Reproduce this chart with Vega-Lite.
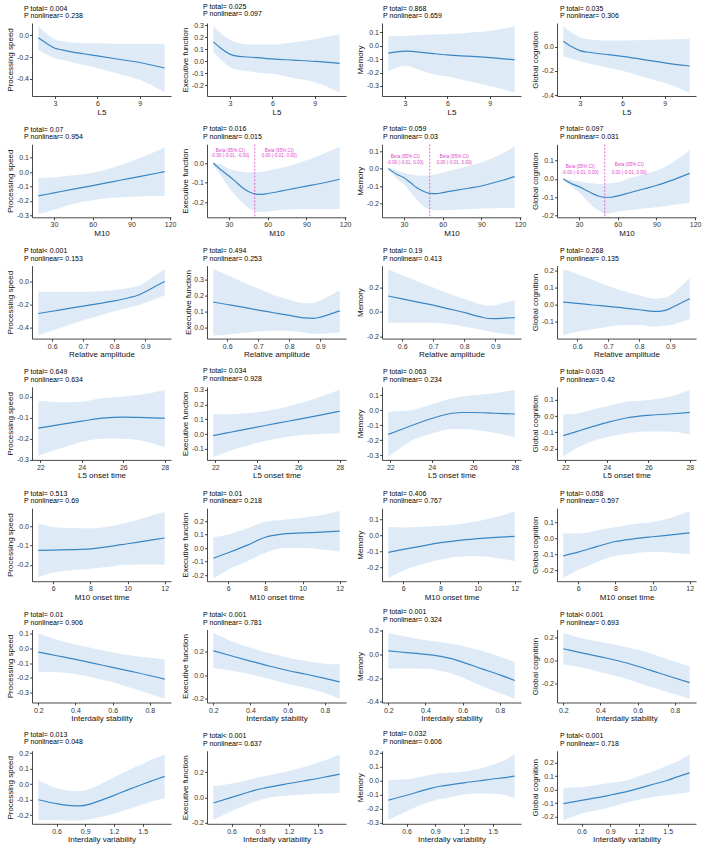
{
"$schema":"https://vega.github.io/schema/vega-lite/v6.json",
"padding":{"left":6,"top":2,"right":2,"bottom":1},
"bounds":"flush",
"columns":4,
"spacing":{"row":48.3,"column":36},
"config":{
"font":"Liberation Sans",
"view":{"stroke":null},
"axis":{"grid":false,"domainColor":"#1a1a1a","tickColor":"#1a1a1a","tickSize":2.5,"labelFontSize":7,"labelColor":"#333333","titleFontSize":8,"titleFontWeight":400,"titleColor":"#111111","labelPadding":1,"titlePadding":1.5,"domainWidth":0.8,"tickWidth":0.8,"labelFlush":false,"labelOverlap":false},
"axisX":{"titleFontWeight":400},
"axisY":{"titleFontWeight":400},
"style":{"guide-title":{"fontWeight":400}},
"title":{"fontSize":7,"fontWeight":"normal","anchor":"start","frame":"group","offset":4,"lineHeight":7.5,"color":"#000000"},
"line":{"color":"#3a86c4","strokeWidth":1.2,"interpolate":"monotone"},
"area":{"color":"#deebf7","interpolate":"monotone"}
},
"datasets":{"d":[
{"e":"L5","o":"PS","x":1.83,"f":-0.025,"l":-0.135,"h":0.08},{"e":"L5","o":"PS","x":2.4,"f":-0.075,"l":-0.175,"h":0.015},{"e":"L5","o":"PS","x":3,"f":-0.12,"l":-0.21,"h":-0.04},{"e":"L5","o":"PS","x":3.5,"f":-0.135,"l":-0.225,"h":-0.055},{"e":"L5","o":"PS","x":4,"f":-0.148,"l":-0.24,"h":-0.065},{"e":"L5","o":"PS","x":5,"f":-0.17,"l":-0.27,"h":-0.072},{"e":"L5","o":"PS","x":6,"f":-0.19,"l":-0.3,"h":-0.075},{"e":"L5","o":"PS","x":7.5,"f":-0.22,"l":-0.355,"h":-0.078},{"e":"L5","o":"PS","x":9,"f":-0.25,"l":-0.41,"h":-0.08},{"e":"L5","o":"PS","x":10.76,"f":-0.3,"l":-0.52,"h":-0.08},
{"e":"L5","o":"EF","x":1.83,"f":0.162,"l":0.075,"h":0.29},{"e":"L5","o":"EF","x":2.4,"f":0.105,"l":0.01,"h":0.23},{"e":"L5","o":"EF","x":3,"f":0.06,"l":-0.05,"h":0.18},{"e":"L5","o":"EF","x":3.5,"f":0.043,"l":-0.07,"h":0.155},{"e":"L5","o":"EF","x":4,"f":0.038,"l":-0.08,"h":0.145},{"e":"L5","o":"EF","x":5,"f":0.03,"l":-0.095,"h":0.14},{"e":"L5","o":"EF","x":6,"f":0.02,"l":-0.105,"h":0.14},{"e":"L5","o":"EF","x":7.5,"f":0.01,"l":-0.14,"h":0.16},{"e":"L5","o":"EF","x":9,"f":0.0,"l":-0.175,"h":0.185},{"e":"L5","o":"EF","x":10.76,"f":-0.017,"l":-0.26,"h":0.225},
{"e":"L5","o":"MEM","x":1.83,"f":-0.055,"l":-0.19,"h":0.07},{"e":"L5","o":"MEM","x":2.4,"f":-0.045,"l":-0.165,"h":0.073},{"e":"L5","o":"MEM","x":3,"f":-0.04,"l":-0.15,"h":0.075},{"e":"L5","o":"MEM","x":3.5,"f":-0.042,"l":-0.16,"h":0.077},{"e":"L5","o":"MEM","x":4,"f":-0.047,"l":-0.18,"h":0.08},{"e":"L5","o":"MEM","x":5,"f":-0.058,"l":-0.21,"h":0.085},{"e":"L5","o":"MEM","x":6,"f":-0.068,"l":-0.23,"h":0.088},{"e":"L5","o":"MEM","x":7.5,"f":-0.078,"l":-0.265,"h":0.098},{"e":"L5","o":"MEM","x":9,"f":-0.088,"l":-0.3,"h":0.11},{"e":"L5","o":"MEM","x":10.76,"f":-0.105,"l":-0.35,"h":0.145},
{"e":"L5","o":"GC","x":1.83,"f":0.044,"l":-0.08,"h":0.167},{"e":"L5","o":"GC","x":2.4,"f":0.0,"l":-0.1,"h":0.115},{"e":"L5","o":"GC","x":3,"f":-0.033,"l":-0.12,"h":0.077},{"e":"L5","o":"GC","x":3.5,"f":-0.045,"l":-0.135,"h":0.062},{"e":"L5","o":"GC","x":4,"f":-0.053,"l":-0.15,"h":0.055},{"e":"L5","o":"GC","x":5,"f":-0.067,"l":-0.175,"h":0.05},{"e":"L5","o":"GC","x":6,"f":-0.08,"l":-0.2,"h":0.05},{"e":"L5","o":"GC","x":7.5,"f":-0.107,"l":-0.25,"h":0.055},{"e":"L5","o":"GC","x":9,"f":-0.134,"l":-0.3,"h":0.058},{"e":"L5","o":"GC","x":10.76,"f":-0.16,"l":-0.38,"h":0.063},
{"e":"M10","o":"PS","x":17.9,"f":-0.165,"l":-0.29,"h":-0.04},{"e":"M10","o":"PS","x":30,"f":-0.144,"l":-0.26,"h":-0.035},{"e":"M10","o":"PS","x":45,"f":-0.118,"l":-0.22,"h":-0.022},{"e":"M10","o":"PS","x":60,"f":-0.093,"l":-0.195,"h":-0.005},{"e":"M10","o":"PS","x":75,"f":-0.067,"l":-0.178,"h":0.03},{"e":"M10","o":"PS","x":90,"f":-0.041,"l":-0.17,"h":0.075},{"e":"M10","o":"PS","x":100,"f":-0.024,"l":-0.167,"h":0.11},{"e":"M10","o":"PS","x":115.8,"f":0.003,"l":-0.165,"h":0.17},
{"e":"M10","o":"EF","x":17.9,"f":0.0,"l":-0.01,"h":0.005},{"e":"M10","o":"EF","x":25,"f":-0.04,"l":-0.075,"h":-0.01},{"e":"M10","o":"EF","x":30,"f":-0.065,"l":-0.125,"h":-0.028},{"e":"M10","o":"EF","x":35,"f":-0.093,"l":-0.165,"h":-0.037},{"e":"M10","o":"EF","x":40,"f":-0.123,"l":-0.2,"h":-0.043},{"e":"M10","o":"EF","x":45,"f":-0.145,"l":-0.228,"h":-0.046},{"e":"M10","o":"EF","x":50,"f":-0.157,"l":-0.245,"h":-0.046},{"e":"M10","o":"EF","x":55,"f":-0.16,"l":-0.25,"h":-0.044},{"e":"M10","o":"EF","x":60,"f":-0.155,"l":-0.247,"h":-0.038},{"e":"M10","o":"EF","x":70,"f":-0.143,"l":-0.24,"h":-0.025},{"e":"M10","o":"EF","x":80,"f":-0.13,"l":-0.236,"h":-0.008},{"e":"M10","o":"EF","x":90,"f":-0.117,"l":-0.234,"h":0.015},{"e":"M10","o":"EF","x":100,"f":-0.105,"l":-0.234,"h":0.04},{"e":"M10","o":"EF","x":115.8,"f":-0.082,"l":-0.235,"h":0.085},
{"e":"M10","o":"MEM","x":17.9,"f":0.0,"l":-0.008,"h":0.004},{"e":"M10","o":"MEM","x":25,"f":-0.035,"l":-0.06,"h":-0.012},{"e":"M10","o":"MEM","x":30,"f":-0.052,"l":-0.09,"h":-0.023},{"e":"M10","o":"MEM","x":35,"f":-0.08,"l":-0.135,"h":-0.033},{"e":"M10","o":"MEM","x":40,"f":-0.11,"l":-0.18,"h":-0.04},{"e":"M10","o":"MEM","x":45,"f":-0.13,"l":-0.215,"h":-0.04},{"e":"M10","o":"MEM","x":50,"f":-0.142,"l":-0.235,"h":-0.038},{"e":"M10","o":"MEM","x":55,"f":-0.144,"l":-0.24,"h":-0.032},{"e":"M10","o":"MEM","x":60,"f":-0.138,"l":-0.24,"h":-0.023},{"e":"M10","o":"MEM","x":70,"f":-0.125,"l":-0.236,"h":-0.005},{"e":"M10","o":"MEM","x":80,"f":-0.113,"l":-0.233,"h":0.015},{"e":"M10","o":"MEM","x":90,"f":-0.1,"l":-0.23,"h":0.035},{"e":"M10","o":"MEM","x":100,"f":-0.08,"l":-0.228,"h":0.065},{"e":"M10","o":"MEM","x":115.8,"f":-0.046,"l":-0.225,"h":0.127},
{"e":"M10","o":"GC","x":17.9,"f":0.0,"l":-0.006,"h":0.004},{"e":"M10","o":"GC","x":25,"f":-0.028,"l":-0.045,"h":-0.008},{"e":"M10","o":"GC","x":30,"f":-0.042,"l":-0.073,"h":-0.013},{"e":"M10","o":"GC","x":35,"f":-0.06,"l":-0.11,"h":-0.019},{"e":"M10","o":"GC","x":40,"f":-0.078,"l":-0.145,"h":-0.024},{"e":"M10","o":"GC","x":45,"f":-0.093,"l":-0.172,"h":-0.027},{"e":"M10","o":"GC","x":50,"f":-0.1,"l":-0.19,"h":-0.027},{"e":"M10","o":"GC","x":55,"f":-0.1,"l":-0.187,"h":-0.022},{"e":"M10","o":"GC","x":60,"f":-0.093,"l":-0.18,"h":-0.018},{"e":"M10","o":"GC","x":70,"f":-0.074,"l":-0.17,"h":0.005},{"e":"M10","o":"GC","x":80,"f":-0.055,"l":-0.162,"h":0.025},{"e":"M10","o":"GC","x":90,"f":-0.036,"l":-0.155,"h":0.045},{"e":"M10","o":"GC","x":100,"f":-0.012,"l":-0.145,"h":0.08},{"e":"M10","o":"GC","x":115.8,"f":0.031,"l":-0.13,"h":0.158},
{"e":"RA","o":"PS","x":0.555,"f":-0.28,"l":-0.47,"h":-0.09},{"e":"RA","o":"PS","x":0.6,"f":-0.26,"l":-0.43,"h":-0.09},{"e":"RA","o":"PS","x":0.65,"f":-0.237,"l":-0.385,"h":-0.09},{"e":"RA","o":"PS","x":0.7,"f":-0.215,"l":-0.34,"h":-0.09},{"e":"RA","o":"PS","x":0.75,"f":-0.193,"l":-0.3,"h":-0.085},{"e":"RA","o":"PS","x":0.8,"f":-0.17,"l":-0.26,"h":-0.075},{"e":"RA","o":"PS","x":0.85,"f":-0.14,"l":-0.225,"h":-0.055},{"e":"RA","o":"PS","x":0.88,"f":-0.115,"l":-0.205,"h":-0.035},{"e":"RA","o":"PS","x":0.9,"f":-0.09,"l":-0.185,"h":-0.005},{"e":"RA","o":"PS","x":0.93,"f":-0.045,"l":-0.155,"h":0.05},{"e":"RA","o":"PS","x":0.963,"f":0.0,"l":-0.12,"h":0.11},
{"e":"RA","o":"EF","x":0.555,"f":0.16,"l":-0.05,"h":0.37},{"e":"RA","o":"EF","x":0.6,"f":0.145,"l":-0.045,"h":0.33},{"e":"RA","o":"EF","x":0.65,"f":0.128,"l":-0.035,"h":0.285},{"e":"RA","o":"EF","x":0.7,"f":0.11,"l":-0.025,"h":0.245},{"e":"RA","o":"EF","x":0.75,"f":0.093,"l":-0.02,"h":0.205},{"e":"RA","o":"EF","x":0.8,"f":0.076,"l":-0.022,"h":0.175},{"e":"RA","o":"EF","x":0.85,"f":0.06,"l":-0.033,"h":0.153},{"e":"RA","o":"EF","x":0.88,"f":0.058,"l":-0.04,"h":0.155},{"e":"RA","o":"EF","x":0.9,"f":0.065,"l":-0.04,"h":0.17},{"e":"RA","o":"EF","x":0.93,"f":0.083,"l":-0.037,"h":0.2},{"e":"RA","o":"EF","x":0.963,"f":0.105,"l":-0.03,"h":0.235},
{"e":"RA","o":"MEM","x":0.555,"f":0.13,"l":-0.09,"h":0.35},{"e":"RA","o":"MEM","x":0.6,"f":0.107,"l":-0.09,"h":0.3},{"e":"RA","o":"MEM","x":0.65,"f":0.08,"l":-0.09,"h":0.25},{"e":"RA","o":"MEM","x":0.7,"f":0.055,"l":-0.09,"h":0.2},{"e":"RA","o":"MEM","x":0.75,"f":0.025,"l":-0.1,"h":0.15},{"e":"RA","o":"MEM","x":0.8,"f":-0.005,"l":-0.12,"h":0.105},{"e":"RA","o":"MEM","x":0.85,"f":-0.04,"l":-0.145,"h":0.065},{"e":"RA","o":"MEM","x":0.88,"f":-0.055,"l":-0.16,"h":0.05},{"e":"RA","o":"MEM","x":0.9,"f":-0.056,"l":-0.17,"h":0.055},{"e":"RA","o":"MEM","x":0.93,"f":-0.052,"l":-0.18,"h":0.075},{"e":"RA","o":"MEM","x":0.963,"f":-0.048,"l":-0.19,"h":0.095},
{"e":"RA","o":"GC","x":0.555,"f":0.015,"l":-0.18,"h":0.21},{"e":"RA","o":"GC","x":0.6,"f":0.008,"l":-0.16,"h":0.18},{"e":"RA","o":"GC","x":0.65,"f":-0.002,"l":-0.145,"h":0.145},{"e":"RA","o":"GC","x":0.7,"f":-0.01,"l":-0.13,"h":0.11},{"e":"RA","o":"GC","x":0.75,"f":-0.02,"l":-0.12,"h":0.08},{"e":"RA","o":"GC","x":0.8,"f":-0.03,"l":-0.12,"h":0.055},{"e":"RA","o":"GC","x":0.85,"f":-0.04,"l":-0.13,"h":0.035},{"e":"RA","o":"GC","x":0.88,"f":-0.035,"l":-0.125,"h":0.04},{"e":"RA","o":"GC","x":0.9,"f":-0.022,"l":-0.12,"h":0.055},{"e":"RA","o":"GC","x":0.93,"f":0.005,"l":-0.105,"h":0.1},{"e":"RA","o":"GC","x":0.963,"f":0.035,"l":-0.085,"h":0.155},
{"e":"L5T","o":"PS","x":21.9,"f":-0.15,"l":-0.28,"h":-0.02},{"e":"L5T","o":"PS","x":22.5,"f":-0.14,"l":-0.26,"h":-0.025},{"e":"L5T","o":"PS","x":23,"f":-0.132,"l":-0.245,"h":-0.028},{"e":"L5T","o":"PS","x":24,"f":-0.117,"l":-0.215,"h":-0.025},{"e":"L5T","o":"PS","x":25,"f":-0.103,"l":-0.2,"h":-0.008},{"e":"L5T","o":"PS","x":26,"f":-0.098,"l":-0.2,"h":0.0},{"e":"L5T","o":"PS","x":27,"f":-0.1,"l":-0.212,"h":0.01},{"e":"L5T","o":"PS","x":28,"f":-0.103,"l":-0.24,"h":0.03},
{"e":"L5T","o":"EF","x":21.9,"f":-0.01,"l":-0.155,"h":0.135},{"e":"L5T","o":"EF","x":22.5,"f":0.006,"l":-0.125,"h":0.135},{"e":"L5T","o":"EF","x":23,"f":0.02,"l":-0.1,"h":0.137},{"e":"L5T","o":"EF","x":24,"f":0.047,"l":-0.06,"h":0.148},{"e":"L5T","o":"EF","x":25,"f":0.074,"l":-0.03,"h":0.17},{"e":"L5T","o":"EF","x":26,"f":0.1,"l":-0.01,"h":0.205},{"e":"L5T","o":"EF","x":27,"f":0.127,"l":0.0,"h":0.25},{"e":"L5T","o":"EF","x":28,"f":0.155,"l":0.005,"h":0.3},
{"e":"L5T","o":"MEM","x":21.9,"f":-0.16,"l":-0.31,"h":-0.01},{"e":"L5T","o":"MEM","x":22.5,"f":-0.13,"l":-0.25,"h":-0.005},{"e":"L5T","o":"MEM","x":23,"f":-0.103,"l":-0.205,"h":0.0},{"e":"L5T","o":"MEM","x":24,"f":-0.055,"l":-0.155,"h":0.04},{"e":"L5T","o":"MEM","x":25,"f":-0.02,"l":-0.125,"h":0.08},{"e":"L5T","o":"MEM","x":25.5,"f":-0.015,"l":-0.125,"h":0.093},{"e":"L5T","o":"MEM","x":26,"f":-0.015,"l":-0.13,"h":0.1},{"e":"L5T","o":"MEM","x":27,"f":-0.02,"l":-0.15,"h":0.113},{"e":"L5T","o":"MEM","x":28,"f":-0.025,"l":-0.18,"h":0.135},
{"e":"L5T","o":"GC","x":21.9,"f":-0.12,"l":-0.25,"h":0.01},{"e":"L5T","o":"GC","x":22.5,"f":-0.097,"l":-0.2,"h":0.015},{"e":"L5T","o":"GC","x":23,"f":-0.077,"l":-0.17,"h":0.03},{"e":"L5T","o":"GC","x":24,"f":-0.04,"l":-0.13,"h":0.06},{"e":"L5T","o":"GC","x":25,"f":-0.01,"l":-0.105,"h":0.09},{"e":"L5T","o":"GC","x":26,"f":0.005,"l":-0.095,"h":0.1},{"e":"L5T","o":"GC","x":27,"f":0.013,"l":-0.095,"h":0.12},{"e":"L5T","o":"GC","x":28,"f":0.023,"l":-0.115,"h":0.16},
{"e":"M10T","o":"PS","x":5.2,"f":-0.125,"l":-0.265,"h":0.015},{"e":"M10T","o":"PS","x":6,"f":-0.123,"l":-0.24,"h":-0.003},{"e":"M10T","o":"PS","x":7,"f":-0.121,"l":-0.228,"h":-0.008},{"e":"M10T","o":"PS","x":8,"f":-0.117,"l":-0.22,"h":-0.01},{"e":"M10T","o":"PS","x":9,"f":-0.105,"l":-0.21,"h":0.0},{"e":"M10T","o":"PS","x":10,"f":-0.09,"l":-0.2,"h":0.02},{"e":"M10T","o":"PS","x":11,"f":-0.075,"l":-0.198,"h":0.048},{"e":"M10T","o":"PS","x":12,"f":-0.06,"l":-0.2,"h":0.075},
{"e":"M10T","o":"EF","x":5.2,"f":-0.075,"l":-0.225,"h":0.08},{"e":"M10T","o":"EF","x":6,"f":-0.035,"l":-0.16,"h":0.1},{"e":"M10T","o":"EF","x":7,"f":0.02,"l":-0.1,"h":0.145},{"e":"M10T","o":"EF","x":8,"f":0.08,"l":-0.035,"h":0.195},{"e":"M10T","o":"EF","x":9,"f":0.105,"l":0.0,"h":0.21},{"e":"M10T","o":"EF","x":10,"f":0.112,"l":0.0,"h":0.225},{"e":"M10T","o":"EF","x":11,"f":0.118,"l":-0.01,"h":0.245},{"e":"M10T","o":"EF","x":12,"f":0.125,"l":-0.025,"h":0.275},
{"e":"M10T","o":"MEM","x":5.2,"f":-0.105,"l":-0.265,"h":0.055},{"e":"M10T","o":"MEM","x":6,"f":-0.087,"l":-0.22,"h":0.05},{"e":"M10T","o":"MEM","x":7,"f":-0.066,"l":-0.18,"h":0.055},{"e":"M10T","o":"MEM","x":8,"f":-0.045,"l":-0.15,"h":0.06},{"e":"M10T","o":"MEM","x":9,"f":-0.03,"l":-0.132,"h":0.07},{"e":"M10T","o":"MEM","x":10,"f":-0.02,"l":-0.13,"h":0.088},{"e":"M10T","o":"MEM","x":11,"f":-0.012,"l":-0.14,"h":0.115},{"e":"M10T","o":"MEM","x":12,"f":-0.005,"l":-0.16,"h":0.15},
{"e":"M10T","o":"GC","x":5.2,"f":-0.11,"l":-0.25,"h":0.03},{"e":"M10T","o":"GC","x":6,"f":-0.087,"l":-0.2,"h":0.03},{"e":"M10T","o":"GC","x":7,"f":-0.052,"l":-0.15,"h":0.05},{"e":"M10T","o":"GC","x":8,"f":-0.02,"l":-0.11,"h":0.07},{"e":"M10T","o":"GC","x":9,"f":-0.003,"l":-0.095,"h":0.09},{"e":"M10T","o":"GC","x":10,"f":0.01,"l":-0.085,"h":0.103},{"e":"M10T","o":"GC","x":11,"f":0.022,"l":-0.09,"h":0.13},{"e":"M10T","o":"GC","x":12,"f":0.035,"l":-0.1,"h":0.17},
{"e":"IS","o":"PS","x":0.2,"f":-0.025,"l":-0.16,"h":0.105},{"e":"IS","o":"PS","x":0.3,"f":-0.05,"l":-0.163,"h":0.06},{"e":"IS","o":"PS","x":0.4,"f":-0.075,"l":-0.175,"h":0.028},{"e":"IS","o":"PS","x":0.5,"f":-0.102,"l":-0.2,"h":0.0},{"e":"IS","o":"PS","x":0.6,"f":-0.13,"l":-0.232,"h":-0.028},{"e":"IS","o":"PS","x":0.7,"f":-0.157,"l":-0.27,"h":-0.048},{"e":"IS","o":"PS","x":0.8,"f":-0.185,"l":-0.31,"h":-0.063},{"e":"IS","o":"PS","x":0.88,"f":-0.21,"l":-0.345,"h":-0.073},
{"e":"IS","o":"EF","x":0.2,"f":0.21,"l":0.06,"h":0.36},{"e":"IS","o":"EF","x":0.3,"f":0.165,"l":0.04,"h":0.29},{"e":"IS","o":"EF","x":0.4,"f":0.122,"l":0.01,"h":0.235},{"e":"IS","o":"EF","x":0.5,"f":0.08,"l":-0.03,"h":0.19},{"e":"IS","o":"EF","x":0.6,"f":0.042,"l":-0.07,"h":0.152},{"e":"IS","o":"EF","x":0.7,"f":0.01,"l":-0.105,"h":0.122},{"e":"IS","o":"EF","x":0.8,"f":-0.025,"l":-0.15,"h":0.1},{"e":"IS","o":"EF","x":0.88,"f":-0.055,"l":-0.2,"h":0.095},
{"e":"IS","o":"MEM","x":0.2,"f":0.03,"l":-0.12,"h":0.18},{"e":"IS","o":"MEM","x":0.3,"f":0.015,"l":-0.118,"h":0.148},{"e":"IS","o":"MEM","x":0.4,"f":0.0,"l":-0.12,"h":0.12},{"e":"IS","o":"MEM","x":0.5,"f":-0.022,"l":-0.145,"h":0.1},{"e":"IS","o":"MEM","x":0.55,"f":-0.04,"l":-0.165,"h":0.088},{"e":"IS","o":"MEM","x":0.6,"f":-0.065,"l":-0.195,"h":0.07},{"e":"IS","o":"MEM","x":0.7,"f":-0.12,"l":-0.265,"h":0.03},{"e":"IS","o":"MEM","x":0.8,"f":-0.172,"l":-0.325,"h":-0.02},{"e":"IS","o":"MEM","x":0.88,"f":-0.22,"l":-0.375,"h":-0.063},
{"e":"IS","o":"GC","x":0.2,"f":0.1,"l":-0.035,"h":0.235},{"e":"IS","o":"GC","x":0.3,"f":0.065,"l":-0.06,"h":0.19},{"e":"IS","o":"GC","x":0.4,"f":0.03,"l":-0.1,"h":0.158},{"e":"IS","o":"GC","x":0.5,"f":-0.005,"l":-0.14,"h":0.128},{"e":"IS","o":"GC","x":0.6,"f":-0.05,"l":-0.19,"h":0.092},{"e":"IS","o":"GC","x":0.7,"f":-0.1,"l":-0.24,"h":0.045},{"e":"IS","o":"GC","x":0.8,"f":-0.15,"l":-0.29,"h":-0.01},{"e":"IS","o":"GC","x":0.88,"f":-0.19,"l":-0.33,"h":-0.05},
{"e":"IV","o":"PS","x":0.41,"f":-0.1,"l":-0.23,"h":0.025},{"e":"IV","o":"PS","x":0.6,"f":-0.125,"l":-0.23,"h":-0.025},{"e":"IV","o":"PS","x":0.75,"f":-0.138,"l":-0.234,"h":-0.043},{"e":"IV","o":"PS","x":0.85,"f":-0.14,"l":-0.233,"h":-0.045},{"e":"IV","o":"PS","x":0.95,"f":-0.128,"l":-0.225,"h":-0.03},{"e":"IV","o":"PS","x":1.05,"f":-0.107,"l":-0.213,"h":-0.003},{"e":"IV","o":"PS","x":1.2,"f":-0.072,"l":-0.19,"h":0.045},{"e":"IV","o":"PS","x":1.35,"f":-0.035,"l":-0.16,"h":0.09},{"e":"IV","o":"PS","x":1.5,"f":0.0,"l":-0.13,"h":0.13},{"e":"IV","o":"PS","x":1.6,"f":0.022,"l":-0.11,"h":0.16},{"e":"IV","o":"PS","x":1.73,"f":0.05,"l":-0.09,"h":0.19},
{"e":"IV","o":"EF","x":0.41,"f":-0.045,"l":-0.18,"h":0.09},{"e":"IV","o":"EF","x":0.6,"f":0.0,"l":-0.11,"h":0.11},{"e":"IV","o":"EF","x":0.75,"f":0.035,"l":-0.06,"h":0.135},{"e":"IV","o":"EF","x":0.85,"f":0.058,"l":-0.03,"h":0.152},{"e":"IV","o":"EF","x":0.95,"f":0.075,"l":-0.01,"h":0.17},{"e":"IV","o":"EF","x":1.05,"f":0.09,"l":0.005,"h":0.185},{"e":"IV","o":"EF","x":1.2,"f":0.11,"l":0.015,"h":0.21},{"e":"IV","o":"EF","x":1.35,"f":0.13,"l":0.022,"h":0.24},{"e":"IV","o":"EF","x":1.5,"f":0.15,"l":0.028,"h":0.275},{"e":"IV","o":"EF","x":1.6,"f":0.165,"l":0.03,"h":0.3},{"e":"IV","o":"EF","x":1.73,"f":0.185,"l":0.035,"h":0.34},
{"e":"IV","o":"MEM","x":0.41,"f":-0.14,"l":-0.285,"h":0.005},{"e":"IV","o":"MEM","x":0.6,"f":-0.105,"l":-0.22,"h":0.01},{"e":"IV","o":"MEM","x":0.75,"f":-0.075,"l":-0.175,"h":0.028},{"e":"IV","o":"MEM","x":0.85,"f":-0.055,"l":-0.15,"h":0.043},{"e":"IV","o":"MEM","x":0.95,"f":-0.04,"l":-0.132,"h":0.053},{"e":"IV","o":"MEM","x":1.05,"f":-0.03,"l":-0.12,"h":0.058},{"e":"IV","o":"MEM","x":1.2,"f":-0.015,"l":-0.1,"h":0.067},{"e":"IV","o":"MEM","x":1.35,"f":-0.002,"l":-0.092,"h":0.085},{"e":"IV","o":"MEM","x":1.5,"f":0.012,"l":-0.093,"h":0.115},{"e":"IV","o":"MEM","x":1.6,"f":0.02,"l":-0.1,"h":0.14},{"e":"IV","o":"MEM","x":1.73,"f":0.033,"l":-0.125,"h":0.19},
{"e":"IV","o":"GC","x":0.41,"f":-0.105,"l":-0.23,"h":0.015},{"e":"IV","o":"GC","x":0.6,"f":-0.08,"l":-0.18,"h":0.02},{"e":"IV","o":"GC","x":0.75,"f":-0.062,"l":-0.155,"h":0.033},{"e":"IV","o":"GC","x":0.85,"f":-0.048,"l":-0.14,"h":0.045},{"e":"IV","o":"GC","x":0.95,"f":-0.033,"l":-0.12,"h":0.055},{"e":"IV","o":"GC","x":1.05,"f":-0.018,"l":-0.102,"h":0.067},{"e":"IV","o":"GC","x":1.2,"f":0.01,"l":-0.075,"h":0.1},{"e":"IV","o":"GC","x":1.35,"f":0.04,"l":-0.055,"h":0.138},{"e":"IV","o":"GC","x":1.5,"f":0.07,"l":-0.04,"h":0.18},{"e":"IV","o":"GC","x":1.6,"f":0.095,"l":-0.03,"h":0.21},{"e":"IV","o":"GC","x":1.73,"f":0.125,"l":-0.02,"h":0.265},
{"e":"M10","o":"EF","k":"r","x":50},{"e":"M10","o":"MEM","k":"r","x":50},{"e":"M10","o":"GC","k":"r","x":50},
{"e":"M10","o":"EF","k":"t","x":31,"y":0.063,"t":"Beta (95% CI)"},{"e":"M10","o":"EF","k":"t","x":31,"y":0.036,"t":"-0.00 (-0.01, -0.00)"},{"e":"M10","o":"EF","k":"t","x":69,"y":0.063,"t":"Beta (95% CI)"},{"e":"M10","o":"EF","k":"t","x":69,"y":0.036,"t":"0.00 (-0.01, 0.00)"},
{"e":"M10","o":"MEM","k":"t","x":31,"y":0.068,"t":"Beta (95% CI)"},{"e":"M10","o":"MEM","k":"t","x":31,"y":0.03,"t":"-0.00 (-0.01, 0.00)"},{"e":"M10","o":"MEM","k":"t","x":69,"y":0.068,"t":"Beta (95% CI)"},{"e":"M10","o":"MEM","k":"t","x":69,"y":0.03,"t":"0.00 (-0.01, 0.00)"},
{"e":"M10","o":"GC","k":"t","x":31,"y":0.065,"t":"Beta (95% CI)"},{"e":"M10","o":"GC","k":"t","x":31,"y":0.031,"t":"-0.00 (-0.01, 0.00)"},{"e":"M10","o":"GC","k":"t","x":69,"y":0.075,"t":"Beta (95% CI)"},{"e":"M10","o":"GC","k":"t","x":69,"y":0.035,"t":"0.00 (-0.01, 0.00)"}
]},
"concat":[
{"width":139,"height":73,"data":{"name":"d"},"transform":[{"filter":"datum.e=='L5'&&datum.o=='PS'"}],"title":{"text":["P total= 0.004","P nonlinear= 0.238"],"dx":-8},"encoding":{"x":{"field":"x","type":"quantitative","scale":{"domain":[1.38,11.21],"nice":false,"zero":false},"axis":{"title":"L5","titleFontWeight":400,"values":[3,6,9],"format":"d","tickCount":20}}},"layer":[{"mark":{"type":"area","clip":true},"encoding":{"y":{"field":"l","type":"quantitative","scale":{"domain":[-0.555,0.11],"nice":false,"zero":false},"axis":{"title":"Processing speed","titleFontWeight":400,"values":[-0.4,-0.2,0],"tickCount":20,"labelExpr":"replace(format(datum.value,'.1f'),'−','-')"}},"y2":{"field":"h"}}},{"mark":{"type":"line","clip":true},"encoding":{"y":{"field":"f","type":"quantitative"}}}]},
{"width":139,"height":73,"data":{"name":"d"},"transform":[{"filter":"datum.e=='L5'&&datum.o=='EF'"}],"title":{"text":["P total= 0.025","P nonlinear= 0.097"],"dx":-4},"encoding":{"x":{"field":"x","type":"quantitative","scale":{"domain":[1.38,11.21],"nice":false,"zero":false},"axis":{"title":"L5","titleFontWeight":400,"values":[3,6,9],"format":"d","tickCount":20}}},"layer":[{"mark":{"type":"area","clip":true},"encoding":{"y":{"field":"l","type":"quantitative","scale":{"domain":[-0.29,0.32],"nice":false,"zero":false},"axis":{"title":"Executive function","titleFontWeight":400,"values":[-0.2,-0.1,0,0.1,0.2,0.3],"tickCount":20,"labelExpr":"replace(format(datum.value,'.1f'),'−','-')"}},"y2":{"field":"h"}}},{"mark":{"type":"line","clip":true},"encoding":{"y":{"field":"f","type":"quantitative"}}}]},
{"width":139,"height":73,"data":{"name":"d"},"transform":[{"filter":"datum.e=='L5'&&datum.o=='MEM'"}],"title":{"text":["P total= 0.868","P nonlinear= 0.659"],"dx":1},"encoding":{"x":{"field":"x","type":"quantitative","scale":{"domain":[1.38,11.21],"nice":false,"zero":false},"axis":{"title":"L5","titleFontWeight":400,"values":[3,6,9],"format":"d","tickCount":20}}},"layer":[{"mark":{"type":"area","clip":true},"encoding":{"y":{"field":"l","type":"quantitative","scale":{"domain":[-0.375,0.17],"nice":false,"zero":false},"axis":{"title":"Memory","titleFontWeight":400,"values":[-0.3,-0.2,-0.1,0,0.1],"tickCount":20,"labelExpr":"replace(format(datum.value,'.1f'),'−','-')"}},"y2":{"field":"h"}}},{"mark":{"type":"line","clip":true},"encoding":{"y":{"field":"f","type":"quantitative"}}}]},
{"width":139,"height":73,"data":{"name":"d"},"transform":[{"filter":"datum.e=='L5'&&datum.o=='GC'"}],"title":{"text":["P total= 0.035","P nonlinear= 0.306"],"dx":3},"encoding":{"x":{"field":"x","type":"quantitative","scale":{"domain":[1.38,11.21],"nice":false,"zero":false},"axis":{"title":"L5","titleFontWeight":400,"values":[3,6,9],"format":"d","tickCount":20}}},"layer":[{"mark":{"type":"area","clip":true},"encoding":{"y":{"field":"l","type":"quantitative","scale":{"domain":[-0.407,0.194],"nice":false,"zero":false},"axis":{"title":"Global cognition","titleFontWeight":400,"values":[-0.4,-0.2,0],"tickCount":20,"labelExpr":"replace(format(datum.value,'.1f'),'−','-')"}},"y2":{"field":"h"}}},{"mark":{"type":"line","clip":true},"encoding":{"y":{"field":"f","type":"quantitative"}}}]},
{"width":139,"height":73,"data":{"name":"d"},"transform":[{"filter":"datum.e=='M10'&&datum.o=='PS'"}],"title":{"text":["P total= 0.07","P nonlinear= 0.954"],"dx":-8},"encoding":{"x":{"field":"x","type":"quantitative","scale":{"domain":[13,120.7],"nice":false,"zero":false},"axis":{"title":"M10","titleFontWeight":400,"values":[30,60,90,120],"format":"d","tickCount":20}}},"layer":[{"mark":{"type":"area","clip":true},"encoding":{"y":{"field":"l","type":"quantitative","scale":{"domain":[-0.313,0.193],"nice":false,"zero":false},"axis":{"title":"Processing speed","titleFontWeight":400,"values":[-0.3,-0.2,-0.1,0,0.1],"tickCount":20,"labelExpr":"replace(format(datum.value,'.1f'),'−','-')"}},"y2":{"field":"h"}}},{"mark":{"type":"line","clip":true},"encoding":{"y":{"field":"f","type":"quantitative"}}}]},
{"width":139,"height":73,"data":{"name":"d"},"transform":[{"filter":"datum.e=='M10'&&datum.o=='EF'"}],"title":{"text":["P total= 0.016","P nonlinear= 0.015"],"dx":-4},"encoding":{"x":{"field":"x","type":"quantitative","scale":{"domain":[13,120.7],"nice":false,"zero":false},"axis":{"title":"M10","titleFontWeight":400,"values":[30,60,90,120],"format":"d","tickCount":20}}},"layer":[{"transform":[{"filter":"!datum.k"}],"mark":{"type":"area","clip":true},"encoding":{"y":{"field":"l","type":"quantitative","scale":{"domain":[-0.277,0.097],"nice":false,"zero":false},"axis":{"title":"Executive function","titleFontWeight":400,"values":[-0.2,-0.1,0],"tickCount":20,"labelExpr":"replace(format(datum.value,'.1f'),'−','-')"}},"y2":{"field":"h"}}},{"transform":[{"filter":"!datum.k"}],"mark":{"type":"line","clip":true},"encoding":{"y":{"field":"f","type":"quantitative"}}},{"transform":[{"filter":"datum.k=='r'"}],"mark":{"type":"rule","color":"#e046c8","strokeDash":[2,1.5],"strokeWidth":0.8},"encoding":{}},{"transform":[{"filter":"datum.k=='t'"}],"mark":{"type":"text","color":"#e046c8","fontSize":4.6,"align":"center","baseline":"middle"},"encoding":{"y":{"field":"y","type":"quantitative"},"text":{"field":"t"}}}]},
{"width":139,"height":73,"data":{"name":"d"},"transform":[{"filter":"datum.e=='M10'&&datum.o=='MEM'"}],"title":{"text":["P total= 0.059","P nonlinear= 0.03"],"dx":1},"encoding":{"x":{"field":"x","type":"quantitative","scale":{"domain":[13,120.7],"nice":false,"zero":false},"axis":{"title":"M10","titleFontWeight":400,"values":[30,60,90,120],"format":"d","tickCount":20}}},"layer":[{"transform":[{"filter":"!datum.k"}],"mark":{"type":"area","clip":true},"encoding":{"y":{"field":"l","type":"quantitative","scale":{"domain":[-0.28,0.14],"nice":false,"zero":false},"axis":{"title":"Memory","titleFontWeight":400,"values":[-0.2,-0.1,0,0.1],"tickCount":20,"labelExpr":"replace(format(datum.value,'.1f'),'−','-')"}},"y2":{"field":"h"}}},{"transform":[{"filter":"!datum.k"}],"mark":{"type":"line","clip":true},"encoding":{"y":{"field":"f","type":"quantitative"}}},{"transform":[{"filter":"datum.k=='r'"}],"mark":{"type":"rule","color":"#e046c8","strokeDash":[2,1.5],"strokeWidth":0.8},"encoding":{}},{"transform":[{"filter":"datum.k=='t'"}],"mark":{"type":"text","color":"#e046c8","fontSize":4.6,"align":"center","baseline":"middle"},"encoding":{"y":{"field":"y","type":"quantitative"},"text":{"field":"t"}}}]},
{"width":139,"height":73,"data":{"name":"d"},"transform":[{"filter":"datum.e=='M10'&&datum.o=='GC'"}],"title":{"text":["P total= 0.097","P nonlinear= 0.031"],"dx":3},"encoding":{"x":{"field":"x","type":"quantitative","scale":{"domain":[13,120.7],"nice":false,"zero":false},"axis":{"title":"M10","titleFontWeight":400,"values":[30,60,90,120],"format":"d","tickCount":20}}},"layer":[{"transform":[{"filter":"!datum.k"}],"mark":{"type":"area","clip":true},"encoding":{"y":{"field":"l","type":"quantitative","scale":{"domain":[-0.21,0.19],"nice":false,"zero":false},"axis":{"title":"Global cognition","titleFontWeight":400,"values":[-0.2,-0.1,0,0.1],"tickCount":20,"labelExpr":"replace(format(datum.value,'.1f'),'−','-')"}},"y2":{"field":"h"}}},{"transform":[{"filter":"!datum.k"}],"mark":{"type":"line","clip":true},"encoding":{"y":{"field":"f","type":"quantitative"}}},{"transform":[{"filter":"datum.k=='r'"}],"mark":{"type":"rule","color":"#e046c8","strokeDash":[2,1.5],"strokeWidth":0.8},"encoding":{}},{"transform":[{"filter":"datum.k=='t'"}],"mark":{"type":"text","color":"#e046c8","fontSize":4.6,"align":"center","baseline":"middle"},"encoding":{"y":{"field":"y","type":"quantitative"},"text":{"field":"t"}}}]},
{"width":139,"height":73,"data":{"name":"d"},"transform":[{"filter":"datum.e=='RA'&&datum.o=='PS'"}],"title":{"text":["P total< 0.001","P nonlinear= 0.153"],"dx":-8},"encoding":{"x":{"field":"x","type":"quantitative","scale":{"domain":[0.535,0.983],"nice":false,"zero":false},"axis":{"title":"Relative amplitude","titleFontWeight":400,"values":[0.6,0.7,0.8,0.9],"format":".1f","tickCount":20}}},"layer":[{"mark":{"type":"area","clip":true},"encoding":{"y":{"field":"l","type":"quantitative","scale":{"domain":[-0.5,0.14],"nice":false,"zero":false},"axis":{"title":"Processing speed","titleFontWeight":400,"values":[-0.4,-0.2,0],"tickCount":20,"labelExpr":"replace(format(datum.value,'.1f'),'−','-')"}},"y2":{"field":"h"}}},{"mark":{"type":"line","clip":true},"encoding":{"y":{"field":"f","type":"quantitative"}}}]},
{"width":139,"height":73,"data":{"name":"d"},"transform":[{"filter":"datum.e=='RA'&&datum.o=='EF'"}],"title":{"text":["P total= 0.494","P nonlinear= 0.253"],"dx":-4},"encoding":{"x":{"field":"x","type":"quantitative","scale":{"domain":[0.535,0.983],"nice":false,"zero":false},"axis":{"title":"Relative amplitude","titleFontWeight":400,"values":[0.6,0.7,0.8,0.9],"format":".1f","tickCount":20}}},"layer":[{"mark":{"type":"area","clip":true},"encoding":{"y":{"field":"l","type":"quantitative","scale":{"domain":[-0.07,0.39],"nice":false,"zero":false},"axis":{"title":"Executive function","titleFontWeight":400,"values":[0,0.1,0.2,0.3],"tickCount":20,"labelExpr":"replace(format(datum.value,'.1f'),'−','-')"}},"y2":{"field":"h"}}},{"mark":{"type":"line","clip":true},"encoding":{"y":{"field":"f","type":"quantitative"}}}]},
{"width":139,"height":73,"data":{"name":"d"},"transform":[{"filter":"datum.e=='RA'&&datum.o=='MEM'"}],"title":{"text":["P total= 0.19","P nonlinear= 0.413"],"dx":1},"encoding":{"x":{"field":"x","type":"quantitative","scale":{"domain":[0.535,0.983],"nice":false,"zero":false},"axis":{"title":"Relative amplitude","titleFontWeight":400,"values":[0.6,0.7,0.8,0.9],"format":".1f","tickCount":20}}},"layer":[{"mark":{"type":"area","clip":true},"encoding":{"y":{"field":"l","type":"quantitative","scale":{"domain":[-0.22,0.38],"nice":false,"zero":false},"axis":{"title":"Memory","titleFontWeight":400,"values":[-0.2,0,0.2],"tickCount":20,"labelExpr":"replace(format(datum.value,'.1f'),'−','-')"}},"y2":{"field":"h"}}},{"mark":{"type":"line","clip":true},"encoding":{"y":{"field":"f","type":"quantitative"}}}]},
{"width":139,"height":73,"data":{"name":"d"},"transform":[{"filter":"datum.e=='RA'&&datum.o=='GC'"}],"title":{"text":["P total= 0.268","P nonlinear= 0.135"],"dx":3},"encoding":{"x":{"field":"x","type":"quantitative","scale":{"domain":[0.535,0.983],"nice":false,"zero":false},"axis":{"title":"Relative amplitude","titleFontWeight":400,"values":[0.6,0.7,0.8,0.9],"format":".1f","tickCount":20}}},"layer":[{"mark":{"type":"area","clip":true},"encoding":{"y":{"field":"l","type":"quantitative","scale":{"domain":[-0.2,0.23],"nice":false,"zero":false},"axis":{"title":"Global cognition","titleFontWeight":400,"values":[-0.1,0,0.1,0.2],"tickCount":20,"labelExpr":"replace(format(datum.value,'.1f'),'−','-')"}},"y2":{"field":"h"}}},{"mark":{"type":"line","clip":true},"encoding":{"y":{"field":"f","type":"quantitative"}}}]},
{"width":139,"height":73,"data":{"name":"d"},"transform":[{"filter":"datum.e=='L5T'&&datum.o=='PS'"}],"title":{"text":["P total= 0.649","P nonlinear= 0.634"],"dx":-8},"encoding":{"x":{"field":"x","type":"quantitative","scale":{"domain":[21.6,28.3],"nice":false,"zero":false},"axis":{"title":"L5 onset time","titleFontWeight":400,"values":[22,24,26,28],"format":"d","tickCount":20}}},"layer":[{"mark":{"type":"area","clip":true},"encoding":{"y":{"field":"l","type":"quantitative","scale":{"domain":[-0.3,0.045],"nice":false,"zero":false},"axis":{"title":"Processing speed","titleFontWeight":400,"values":[-0.3,-0.2,-0.1,0],"tickCount":20,"labelExpr":"replace(format(datum.value,'.1f'),'−','-')"}},"y2":{"field":"h"}}},{"mark":{"type":"line","clip":true},"encoding":{"y":{"field":"f","type":"quantitative"}}}]},
{"width":139,"height":73,"data":{"name":"d"},"transform":[{"filter":"datum.e=='L5T'&&datum.o=='EF'"}],"title":{"text":["P total= 0.034","P nonlinear= 0.928"],"dx":-4},"encoding":{"x":{"field":"x","type":"quantitative","scale":{"domain":[21.6,28.3],"nice":false,"zero":false},"axis":{"title":"L5 onset time","titleFontWeight":400,"values":[22,24,26,28],"format":"d","tickCount":20}}},"layer":[{"mark":{"type":"area","clip":true},"encoding":{"y":{"field":"l","type":"quantitative","scale":{"domain":[-0.175,0.32],"nice":false,"zero":false},"axis":{"title":"Executive function","titleFontWeight":400,"values":[-0.1,0,0.1,0.2,0.3],"tickCount":20,"labelExpr":"replace(format(datum.value,'.1f'),'−','-')"}},"y2":{"field":"h"}}},{"mark":{"type":"line","clip":true},"encoding":{"y":{"field":"f","type":"quantitative"}}}]},
{"width":139,"height":73,"data":{"name":"d"},"transform":[{"filter":"datum.e=='L5T'&&datum.o=='MEM'"}],"title":{"text":["P total= 0.063","P nonlinear= 0.234"],"dx":1},"encoding":{"x":{"field":"x","type":"quantitative","scale":{"domain":[21.6,28.3],"nice":false,"zero":false},"axis":{"title":"L5 onset time","titleFontWeight":400,"values":[22,24,26,28],"format":"d","tickCount":20}}},"layer":[{"mark":{"type":"area","clip":true},"encoding":{"y":{"field":"l","type":"quantitative","scale":{"domain":[-0.33,0.155],"nice":false,"zero":false},"axis":{"title":"Memory","titleFontWeight":400,"values":[-0.3,-0.2,-0.1,0,0.1],"tickCount":20,"labelExpr":"replace(format(datum.value,'.1f'),'−','-')"}},"y2":{"field":"h"}}},{"mark":{"type":"line","clip":true},"encoding":{"y":{"field":"f","type":"quantitative"}}}]},
{"width":139,"height":73,"data":{"name":"d"},"transform":[{"filter":"datum.e=='L5T'&&datum.o=='GC'"}],"title":{"text":["P total= 0.035","P nonlinear= 0.42"],"dx":3},"encoding":{"x":{"field":"x","type":"quantitative","scale":{"domain":[21.6,28.3],"nice":false,"zero":false},"axis":{"title":"L5 onset time","titleFontWeight":400,"values":[22,24,26,28],"format":"d","tickCount":20}}},"layer":[{"mark":{"type":"area","clip":true},"encoding":{"y":{"field":"l","type":"quantitative","scale":{"domain":[-0.27,0.18],"nice":false,"zero":false},"axis":{"title":"Global cognition","titleFontWeight":400,"values":[-0.2,-0.1,0,0.1],"tickCount":20,"labelExpr":"replace(format(datum.value,'.1f'),'−','-')"}},"y2":{"field":"h"}}},{"mark":{"type":"line","clip":true},"encoding":{"y":{"field":"f","type":"quantitative"}}}]},
{"width":139,"height":73,"data":{"name":"d"},"transform":[{"filter":"datum.e=='M10T'&&datum.o=='PS'"}],"title":{"text":["P total= 0.513","P nonlinear= 0.69"],"dx":-8},"encoding":{"x":{"field":"x","type":"quantitative","scale":{"domain":[4.86,12.34],"nice":false,"zero":false},"axis":{"title":"M10 onset time","titleFontWeight":400,"values":[6,8,10,12],"format":"d","tickCount":20}}},"layer":[{"mark":{"type":"area","clip":true},"encoding":{"y":{"field":"l","type":"quantitative","scale":{"domain":[-0.285,0.095],"nice":false,"zero":false},"axis":{"title":"Processing speed","titleFontWeight":400,"values":[-0.2,-0.1,0],"tickCount":20,"labelExpr":"replace(format(datum.value,'.1f'),'−','-')"}},"y2":{"field":"h"}}},{"mark":{"type":"line","clip":true},"encoding":{"y":{"field":"f","type":"quantitative"}}}]},
{"width":139,"height":73,"data":{"name":"d"},"transform":[{"filter":"datum.e=='M10T'&&datum.o=='EF'"}],"title":{"text":["P total= 0.01","P nonlinear= 0.218"],"dx":-4},"encoding":{"x":{"field":"x","type":"quantitative","scale":{"domain":[4.86,12.34],"nice":false,"zero":false},"axis":{"title":"M10 onset time","titleFontWeight":400,"values":[6,8,10,12],"format":"d","tickCount":20}}},"layer":[{"mark":{"type":"area","clip":true},"encoding":{"y":{"field":"l","type":"quantitative","scale":{"domain":[-0.245,0.295],"nice":false,"zero":false},"axis":{"title":"Executive function","titleFontWeight":400,"values":[-0.2,-0.1,0,0.1,0.2],"tickCount":20,"labelExpr":"replace(format(datum.value,'.1f'),'−','-')"}},"y2":{"field":"h"}}},{"mark":{"type":"line","clip":true},"encoding":{"y":{"field":"f","type":"quantitative"}}}]},
{"width":139,"height":73,"data":{"name":"d"},"transform":[{"filter":"datum.e=='M10T'&&datum.o=='MEM'"}],"title":{"text":["P total= 0.406","P nonlinear= 0.767"],"dx":1},"encoding":{"x":{"field":"x","type":"quantitative","scale":{"domain":[4.86,12.34],"nice":false,"zero":false},"axis":{"title":"M10 onset time","titleFontWeight":400,"values":[6,8,10,12],"format":"d","tickCount":20}}},"layer":[{"mark":{"type":"area","clip":true},"encoding":{"y":{"field":"l","type":"quantitative","scale":{"domain":[-0.285,0.17],"nice":false,"zero":false},"axis":{"title":"Memory","titleFontWeight":400,"values":[-0.2,-0.1,0,0.1],"tickCount":20,"labelExpr":"replace(format(datum.value,'.1f'),'−','-')"}},"y2":{"field":"h"}}},{"mark":{"type":"line","clip":true},"encoding":{"y":{"field":"f","type":"quantitative"}}}]},
{"width":139,"height":73,"data":{"name":"d"},"transform":[{"filter":"datum.e=='M10T'&&datum.o=='GC'"}],"title":{"text":["P total= 0.058","P nonlinear= 0.597"],"dx":3},"encoding":{"x":{"field":"x","type":"quantitative","scale":{"domain":[4.86,12.34],"nice":false,"zero":false},"axis":{"title":"M10 onset time","titleFontWeight":400,"values":[6,8,10,12],"format":"d","tickCount":20}}},"layer":[{"mark":{"type":"area","clip":true},"encoding":{"y":{"field":"l","type":"quantitative","scale":{"domain":[-0.27,0.19],"nice":false,"zero":false},"axis":{"title":"Global cognition","titleFontWeight":400,"values":[-0.2,-0.1,0,0.1],"tickCount":20,"labelExpr":"replace(format(datum.value,'.1f'),'−','-')"}},"y2":{"field":"h"}}},{"mark":{"type":"line","clip":true},"encoding":{"y":{"field":"f","type":"quantitative"}}}]},
{"width":139,"height":73,"data":{"name":"d"},"transform":[{"filter":"datum.e=='IS'&&datum.o=='PS'"}],"title":{"text":["P total= 0.01","P nonlinear= 0.906"],"dx":-8},"encoding":{"x":{"field":"x","type":"quantitative","scale":{"domain":[0.166,0.914],"nice":false,"zero":false},"axis":{"title":"Interdaily stability","titleFontWeight":400,"values":[0.2,0.4,0.6,0.8],"format":".1f","tickCount":20}}},"layer":[{"mark":{"type":"area","clip":true},"encoding":{"y":{"field":"l","type":"quantitative","scale":{"domain":[-0.37,0.13],"nice":false,"zero":false},"axis":{"title":"Processing speed","titleFontWeight":400,"values":[-0.3,-0.2,-0.1,0,0.1],"tickCount":20,"labelExpr":"replace(format(datum.value,'.1f'),'−','-')"}},"y2":{"field":"h"}}},{"mark":{"type":"line","clip":true},"encoding":{"y":{"field":"f","type":"quantitative"}}}]},
{"width":139,"height":73,"data":{"name":"d"},"transform":[{"filter":"datum.e=='IS'&&datum.o=='EF'"}],"title":{"text":["P total< 0.001","P nonlinear= 0.781"],"dx":-4},"encoding":{"x":{"field":"x","type":"quantitative","scale":{"domain":[0.166,0.914],"nice":false,"zero":false},"axis":{"title":"Interdaily stability","titleFontWeight":400,"values":[0.2,0.4,0.6,0.8],"format":".1f","tickCount":20}}},"layer":[{"mark":{"type":"area","clip":true},"encoding":{"y":{"field":"l","type":"quantitative","scale":{"domain":[-0.23,0.39],"nice":false,"zero":false},"axis":{"title":"Executive function","titleFontWeight":400,"values":[-0.2,0,0.2],"tickCount":20,"labelExpr":"replace(format(datum.value,'.1f'),'−','-')"}},"y2":{"field":"h"}}},{"mark":{"type":"line","clip":true},"encoding":{"y":{"field":"f","type":"quantitative"}}}]},
{"width":139,"height":73,"data":{"name":"d"},"transform":[{"filter":"datum.e=='IS'&&datum.o=='MEM'"}],"title":{"text":["P total= 0.001","P nonlinear= 0.324"],"dx":1},"encoding":{"x":{"field":"x","type":"quantitative","scale":{"domain":[0.166,0.914],"nice":false,"zero":false},"axis":{"title":"Interdaily stability","titleFontWeight":400,"values":[0.2,0.4,0.6,0.8],"format":".1f","tickCount":20}}},"layer":[{"mark":{"type":"area","clip":true},"encoding":{"y":{"field":"l","type":"quantitative","scale":{"domain":[-0.405,0.21],"nice":false,"zero":false},"axis":{"title":"Memory","titleFontWeight":400,"values":[-0.4,-0.2,0,0.2],"tickCount":20,"labelExpr":"replace(format(datum.value,'.1f'),'−','-')"}},"y2":{"field":"h"}}},{"mark":{"type":"line","clip":true},"encoding":{"y":{"field":"f","type":"quantitative"}}}]},
{"width":139,"height":73,"data":{"name":"d"},"transform":[{"filter":"datum.e=='IS'&&datum.o=='GC'"}],"title":{"text":["P total< 0.001","P nonlinear= 0.693"],"dx":3},"encoding":{"x":{"field":"x","type":"quantitative","scale":{"domain":[0.166,0.914],"nice":false,"zero":false},"axis":{"title":"Interdaily stability","titleFontWeight":400,"values":[0.2,0.4,0.6,0.8],"format":".1f","tickCount":20}}},"layer":[{"mark":{"type":"area","clip":true},"encoding":{"y":{"field":"l","type":"quantitative","scale":{"domain":[-0.36,0.265],"nice":false,"zero":false},"axis":{"title":"Global cognition","titleFontWeight":400,"values":[-0.2,0,0.2],"tickCount":20,"labelExpr":"replace(format(datum.value,'.1f'),'−','-')"}},"y2":{"field":"h"}}},{"mark":{"type":"line","clip":true},"encoding":{"y":{"field":"f","type":"quantitative"}}}]},
{"width":139,"height":73,"data":{"name":"d"},"transform":[{"filter":"datum.e=='IV'&&datum.o=='PS'"}],"title":{"text":["P total= 0.013","P nonlinear= 0.048"],"dx":-8},"encoding":{"x":{"field":"x","type":"quantitative","scale":{"domain":[0.344,1.796],"nice":false,"zero":false},"axis":{"title":"Interdaily variability","titleFontWeight":400,"values":[0.6,0.9,1.2,1.5],"format":".1f","tickCount":20}}},"layer":[{"mark":{"type":"area","clip":true},"encoding":{"y":{"field":"l","type":"quantitative","scale":{"domain":[-0.255,0.215],"nice":false,"zero":false},"axis":{"title":"Processing speed","titleFontWeight":400,"values":[-0.2,-0.1,0,0.1,0.2],"tickCount":20,"labelExpr":"replace(format(datum.value,'.1f'),'−','-')"}},"y2":{"field":"h"}}},{"mark":{"type":"line","clip":true},"encoding":{"y":{"field":"f","type":"quantitative"}}}]},
{"width":139,"height":73,"data":{"name":"d"},"transform":[{"filter":"datum.e=='IV'&&datum.o=='EF'"}],"title":{"text":["P total< 0.001","P nonlinear= 0.637"],"dx":-4},"encoding":{"x":{"field":"x","type":"quantitative","scale":{"domain":[0.344,1.796],"nice":false,"zero":false},"axis":{"title":"Interdaily variability","titleFontWeight":400,"values":[0.6,0.9,1.2,1.5],"format":".1f","tickCount":20}}},"layer":[{"mark":{"type":"area","clip":true},"encoding":{"y":{"field":"l","type":"quantitative","scale":{"domain":[-0.21,0.37],"nice":false,"zero":false},"axis":{"title":"Executive function","titleFontWeight":400,"values":[-0.2,0,0.2],"tickCount":20,"labelExpr":"replace(format(datum.value,'.1f'),'−','-')"}},"y2":{"field":"h"}}},{"mark":{"type":"line","clip":true},"encoding":{"y":{"field":"f","type":"quantitative"}}}]},
{"width":139,"height":73,"data":{"name":"d"},"transform":[{"filter":"datum.e=='IV'&&datum.o=='MEM'"}],"title":{"text":["P total= 0.032","P nonlinear= 0.606"],"dx":1},"encoding":{"x":{"field":"x","type":"quantitative","scale":{"domain":[0.344,1.796],"nice":false,"zero":false},"axis":{"title":"Interdaily variability","titleFontWeight":400,"values":[0.6,0.9,1.2,1.5],"format":".1f","tickCount":20}}},"layer":[{"mark":{"type":"area","clip":true},"encoding":{"y":{"field":"l","type":"quantitative","scale":{"domain":[-0.31,0.215],"nice":false,"zero":false},"axis":{"title":"Memory","titleFontWeight":400,"values":[-0.3,-0.2,-0.1,0,0.1,0.2],"tickCount":20,"labelExpr":"replace(format(datum.value,'.1f'),'−','-')"}},"y2":{"field":"h"}}},{"mark":{"type":"line","clip":true},"encoding":{"y":{"field":"f","type":"quantitative"}}}]},
{"width":139,"height":73,"data":{"name":"d"},"transform":[{"filter":"datum.e=='IV'&&datum.o=='GC'"}],"title":{"text":["P total< 0.001","P nonlinear= 0.718"],"dx":3},"encoding":{"x":{"field":"x","type":"quantitative","scale":{"domain":[0.344,1.796],"nice":false,"zero":false},"axis":{"title":"Interdaily variability","titleFontWeight":400,"values":[0.6,0.9,1.2,1.5],"format":".1f","tickCount":20}}},"layer":[{"mark":{"type":"area","clip":true},"encoding":{"y":{"field":"l","type":"quantitative","scale":{"domain":[-0.255,0.29],"nice":false,"zero":false},"axis":{"title":"Global cognition","titleFontWeight":400,"values":[-0.2,-0.1,0,0.1,0.2],"tickCount":20,"labelExpr":"replace(format(datum.value,'.1f'),'−','-')"}},"y2":{"field":"h"}}},{"mark":{"type":"line","clip":true},"encoding":{"y":{"field":"f","type":"quantitative"}}}]}
]
}
